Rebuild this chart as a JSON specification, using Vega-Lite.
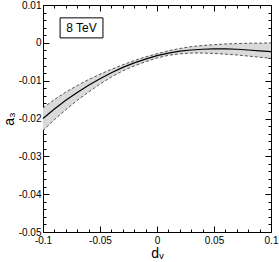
{
  "$schema": "https://vega.github.io/schema/vega-lite/v6.json",
  "width": 228,
  "height": 227,
  "autosize": "none",
  "padding": {"left": 43, "top": 5, "right": 8, "bottom": 30},
  "background": "white",
  "config": {
    "view": {"stroke": "black", "strokeWidth": 1},
    "axis": {"domain": false, "grid": false, "labelFont": "Liberation Sans", "titleFont": "Liberation Sans", "labelColor": "black", "titleColor": "black", "tickColor": "black", "tickWidth": 1, "labelFontSize": 10, "titleFontSize": 14, "titleFontWeight": "normal"}
  },
  "resolve": {"axis": {"x": "independent", "y": "independent"}},
  "datasets": {
    "curve": [
      {"d": -0.1, "lo": -0.0232, "mid": -0.0200, "hi": -0.0172},
      {"d": -0.09, "lo": -0.0203, "mid": -0.0175, "hi": -0.0150},
      {"d": -0.08, "lo": -0.0177, "mid": -0.0152, "hi": -0.0130},
      {"d": -0.07, "lo": -0.0152, "mid": -0.0131, "hi": -0.0113},
      {"d": -0.06, "lo": -0.0130, "mid": -0.0112, "hi": -0.0097},
      {"d": -0.05, "lo": -0.0109, "mid": -0.0095, "hi": -0.0083},
      {"d": -0.04, "lo": -0.0090, "mid": -0.0079, "hi": -0.0070},
      {"d": -0.03, "lo": -0.0074, "mid": -0.0065, "hi": -0.0058},
      {"d": -0.02, "lo": -0.0061, "mid": -0.0053, "hi": -0.0047},
      {"d": -0.01, "lo": -0.0050, "mid": -0.0043, "hi": -0.0037},
      {"d": 0, "lo": -0.0040, "mid": -0.0034, "hi": -0.0029},
      {"d": 0.01, "lo": -0.0033, "mid": -0.0027, "hi": -0.0021},
      {"d": 0.02, "lo": -0.0029, "mid": -0.0022, "hi": -0.0015},
      {"d": 0.03, "lo": -0.0027, "mid": -0.0019, "hi": -0.0010},
      {"d": 0.04, "lo": -0.0027, "mid": -0.0017, "hi": -0.0007},
      {"d": 0.05, "lo": -0.0028, "mid": -0.0016, "hi": -0.0005},
      {"d": 0.06, "lo": -0.0030, "mid": -0.0016, "hi": -0.0003},
      {"d": 0.07, "lo": -0.0032, "mid": -0.0017, "hi": -0.0002},
      {"d": 0.08, "lo": -0.0035, "mid": -0.0019, "hi": -0.0001},
      {"d": 0.09, "lo": -0.0038, "mid": -0.0021, "hi": -0.0001},
      {"d": 0.1, "lo": -0.0041, "mid": -0.0023, "hi": 0.0000}
    ],
    "box": [{"x1": -0.085, "x2": -0.0474, "y1": 0.0013, "y2": 0.0066}],
    "label": [{"d": -0.0662, "v": 0.0039, "text": "8 TeV"}]
  },
  "layer": [
    {
      "data": {"name": "curve"},
      "mark": {"type": "area", "fill": "#dadada", "stroke": null},
      "encoding": {
        "x": {"field": "d", "type": "quantitative", "scale": {"domain": [-0.1, 0.1], "nice": false, "zero": false},
              "axis": {"orient": "bottom", "values": [-0.1, -0.05, 0, 0.05, 0.1], "ticks": false, "labelPadding": 3, "labelExpr": "'' + datum.value", "title": "dᵥ", "titlePadding": 1, "labelFlush": false, "labelOverlap": false}},
        "y": {"field": "lo", "type": "quantitative", "scale": {"domain": [-0.05, 0.01], "nice": false, "zero": false},
              "axis": {"orient": "left", "values": [-0.05, -0.04, -0.03, -0.02, -0.01, 0, 0.01], "ticks": false, "labelPadding": 2, "labelExpr": "'' + datum.value", "title": "a₃", "titlePadding": 2, "labelOverlap": false}},
        "y2": {"field": "hi"}
      }
    },
    {
      "data": {"name": "curve"},
      "mark": {"type": "line", "stroke": "#555555", "strokeWidth": 1, "strokeDash": [3, 2]},
      "encoding": {
        "x": {"field": "d", "type": "quantitative", "scale": {"domain": [-0.1, 0.1], "nice": false},
              "axis": {"orient": "bottom", "values": [-0.1, -0.05, 0, 0.05, 0.1], "labels": false, "tickSize": -6, "title": null}},
        "y": {"field": "hi", "type": "quantitative", "scale": {"domain": [-0.05, 0.01], "nice": false},
              "axis": {"orient": "left", "values": [-0.05, -0.04, -0.03, -0.02, -0.01, 0, 0.01], "labels": false, "tickSize": -6, "title": null}}
      }
    },
    {
      "data": {"name": "curve"},
      "mark": {"type": "line", "stroke": "#555555", "strokeWidth": 1, "strokeDash": [3, 2]},
      "encoding": {
        "x": {"field": "d", "type": "quantitative", "scale": {"domain": [-0.1, 0.1], "nice": false},
              "axis": {"orient": "bottom", "values": [-0.09, -0.08, -0.07, -0.06, -0.04, -0.03, -0.02, -0.01, 0.01, 0.02, 0.03, 0.04, 0.06, 0.07, 0.08, 0.09], "labels": false, "tickSize": -3, "title": null}},
        "y": {"field": "lo", "type": "quantitative", "scale": {"domain": [-0.05, 0.01], "nice": false},
              "axis": {"orient": "left", "values": [-0.048, -0.046, -0.044, -0.042, -0.038, -0.036, -0.034, -0.032, -0.028, -0.026, -0.024, -0.022, -0.018, -0.016, -0.014, -0.012, -0.008, -0.006, -0.004, -0.002, 0.002, 0.004, 0.006, 0.008], "labels": false, "tickSize": -3, "title": null}}
      }
    },
    {
      "data": {"name": "curve"},
      "mark": {"type": "line", "stroke": "black", "strokeWidth": 1.2},
      "encoding": {
        "x": {"field": "d", "type": "quantitative", "scale": {"domain": [-0.1, 0.1], "nice": false},
              "axis": {"orient": "top", "values": [-0.1, -0.05, 0, 0.05, 0.1], "labels": false, "tickSize": -6, "title": null}},
        "y": {"field": "mid", "type": "quantitative", "scale": {"domain": [-0.05, 0.01], "nice": false},
              "axis": {"orient": "right", "values": [-0.05, -0.04, -0.03, -0.02, -0.01, 0, 0.01], "labels": false, "tickSize": -6, "title": null}}
      }
    },
    {
      "data": {"name": "box"},
      "mark": {"type": "rect", "fill": "white", "stroke": "black", "strokeWidth": 1},
      "encoding": {
        "x": {"field": "x1", "type": "quantitative", "scale": {"domain": [-0.1, 0.1], "nice": false},
              "axis": {"orient": "top", "values": [-0.09, -0.08, -0.07, -0.06, -0.04, -0.03, -0.02, -0.01, 0.01, 0.02, 0.03, 0.04, 0.06, 0.07, 0.08, 0.09], "labels": false, "tickSize": -3, "title": null}},
        "x2": {"field": "x2"},
        "y": {"field": "y1", "type": "quantitative", "scale": {"domain": [-0.05, 0.01], "nice": false},
              "axis": {"orient": "right", "values": [-0.048, -0.046, -0.044, -0.042, -0.038, -0.036, -0.034, -0.032, -0.028, -0.026, -0.024, -0.022, -0.018, -0.016, -0.014, -0.012, -0.008, -0.006, -0.004, -0.002, 0.002, 0.004, 0.006, 0.008], "labels": false, "tickSize": -3, "title": null}},
        "y2": {"field": "y2"}
      }
    },
    {
      "data": {"name": "label"},
      "mark": {"type": "text", "font": "Liberation Sans", "fontSize": 12, "color": "black", "align": "center", "baseline": "middle"},
      "encoding": {
        "x": {"field": "d", "type": "quantitative", "scale": {"domain": [-0.1, 0.1], "nice": false}, "axis": null},
        "y": {"field": "v", "type": "quantitative", "scale": {"domain": [-0.05, 0.01], "nice": false}, "axis": null},
        "text": {"field": "text"}
      }
    }
  ]
}
